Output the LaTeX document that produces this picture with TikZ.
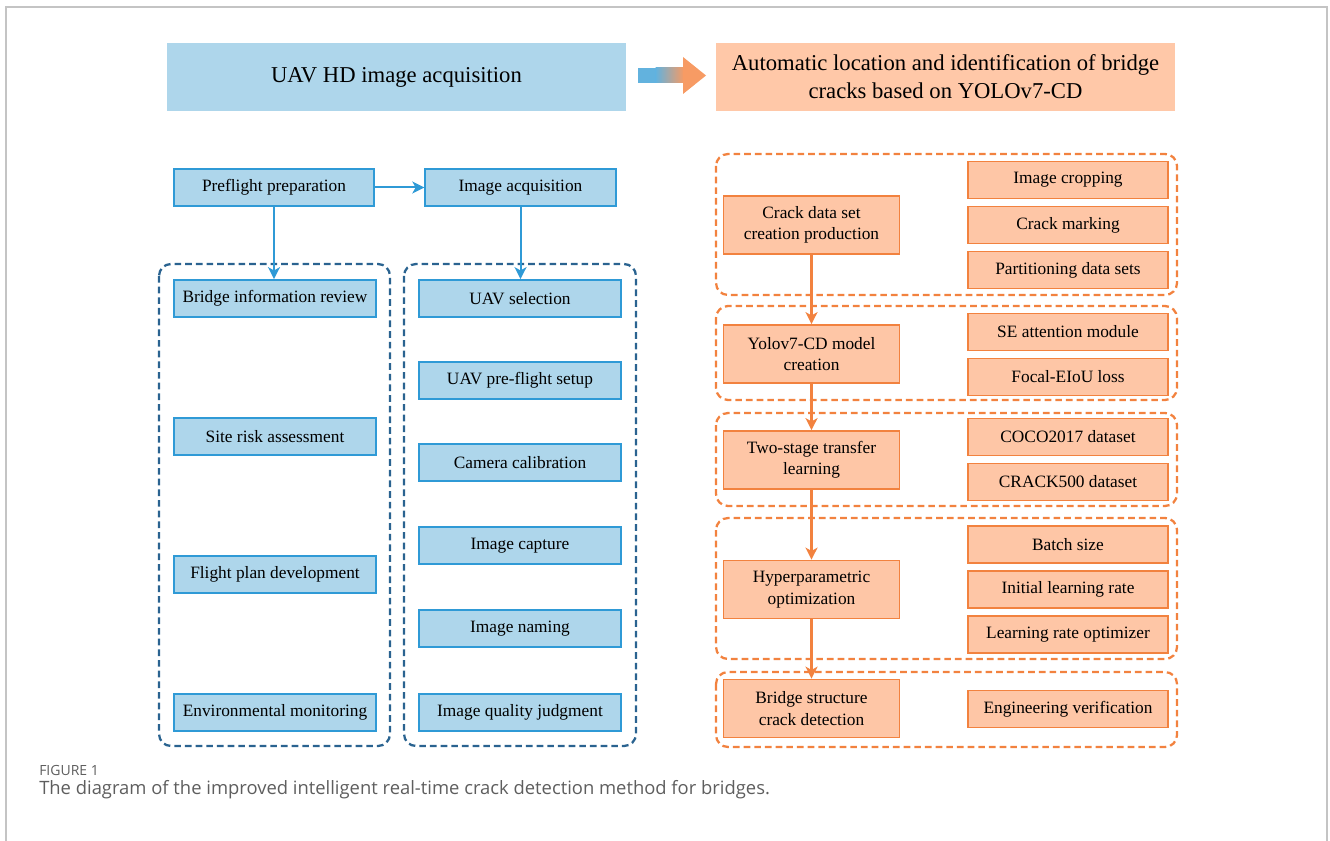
\documentclass[tikz,border=0pt]{standalone}
\usepackage{fontspec}
\setmainfont{Liberation Serif}
\newfontfamily\capfont{Open Sans}
\usetikzlibrary{arrows.meta}
\definecolor{bfill}{HTML}{AED6EB}
\definecolor{bline}{HTML}{2F9AD6}
\definecolor{bdash}{HTML}{2A6390}
\definecolor{ofill}{HTML}{FEC6A6}
\definecolor{oline}{HTML}{F2823F}
\definecolor{otop}{HTML}{FFC8A8}
\definecolor{frame}{HTML}{C4C4C4}
\definecolor{captxt}{HTML}{5E5E5E}
\tikzset{
  bbox/.style={draw=bline, fill=bfill, line width=1.3pt, minimum width=151.5pt, minimum height=27.75pt, inner sep=0pt, font=\fontsize{13}{15}\selectfont, align=center},
  obox/.style={draw=oline, fill=ofill, line width=1.3pt, minimum width=150pt, minimum height=27.75pt, inner sep=0pt, font=\fontsize{13}{15}\selectfont, align=center},
  obig/.style={obox, minimum width=132pt, minimum height=43.5pt, font=\fontsize{13}{16}\selectfont},
  bgrp/.style={draw=bdash, line width=1.7pt, dash pattern=on 5pt off 3pt, rounded corners=9pt},
  ogrp/.style={draw=oline, line width=1.7pt, dash pattern=on 5pt off 3pt, rounded corners=9pt},
  barr/.style={draw=bline, line width=1.5pt, -{Stealth[length=9pt,width=9pt,inset=2.5pt]}},
  oarr/.style={draw=oline, line width=1.6pt, -{Stealth[length=9pt,width=9pt,inset=2.5pt]}},
}
\begin{document}
\begin{tikzpicture}[x=0.75pt,y=-0.75pt]
\useasboundingbox (0,0) rectangle (1330,841);
% frame
\draw[frame, line width=1.2pt] (6,841) -- (6,7) -- (1327,7) -- (1327,841);
% top boxes
\node[fill=bfill, minimum width=344pt, minimum height=51pt, inner sep=0pt, font=\fontsize{17}{20}\selectfont] (uav) at (396.5,77) {UAV HD image acquisition};
\node[fill=otop, minimum width=344pt, minimum height=51pt, inner sep=0pt, align=center, font=\fontsize{17}{21}\selectfont] (auto) at (945.5,77) {Automatic location and identification of bridge\\cracks based on YOLOv7-CD};
% gradient arrow
\coordinate (ga) at (638,75.5);
\fill[bline!60!bfill] (638,68) rectangle (656,83);
\shade[left color=bline!60!bfill, right color=oline!65!otop] (655.5,68) rectangle (684,83);
\fill[oline!65!otop] (683,57) -- (706,75.5) -- (683,94) -- cycle;
% left groups
\draw[bgrp] (159,264) rectangle (390,746);
\draw[bgrp] (404,264) rectangle (636,746);
\node[bbox, minimum width=150pt] (pre) at (274,187.5) {Preflight preparation};
\node[bbox, minimum width=143pt] (ia) at (520.5,187.5) {Image acquisition};
\node[bbox] (bir) at (275,298.5) {Bridge information review};
\node[bbox] (sra) at (275,436.5) {Site risk assessment};
\node[bbox] (fpd) at (275,574.5) {Flight plan development};
\node[bbox] (env) at (275,712.5) {Environmental monitoring};
\node[bbox] (us) at (520,298.5) {UAV selection};
\node[bbox] (ups) at (520,380.5) {UAV pre-flight setup};
\node[bbox] (cc) at (520,462.5) {Camera calibration};
\node[bbox] (ic) at (520,545.5) {Image capture};
\node[bbox] (in) at (520,628.5) {Image naming};
\node[bbox] (iq) at (520,712.5) {Image quality judgment};
\draw[barr] (pre) -- (ia);
\draw[barr] (pre.south) -- (pre.south |- bir.north);
\draw[barr] (ia.south) -- (ia.south |- us.north);
% right groups
\draw[ogrp] (716,154) rectangle (1177,295);
\draw[ogrp] (716,306) rectangle (1177,400);
\draw[ogrp] (716,413) rectangle (1177,506);
\draw[ogrp] (716,518) rectangle (1177,659);
\draw[ogrp] (716,672) rectangle (1177,747);
\node[obig] (cds) at (811.5,225) {Crack data set\\creation production};
\node[obig] (yolo) at (811.5,354) {Yolov7-CD model\\creation};
\node[obig] (two) at (811.5,460) {Two-stage transfer\\learning};
\node[obig] (hyp) at (811.5,589.5) {Hyperparametric\\optimization};
\node[obig] (bsc) at (811.5,708.5) {Bridge structure\\crack detection};
\node[obox] (crop) at (1068,180) {Image cropping};
\node[obox] (mark) at (1068,225) {Crack marking};
\node[obox] (part) at (1068,270) {Partitioning data sets};
\node[obox] (se) at (1068,332) {SE attention module};
\node[obox] (foc) at (1068,377) {Focal-EIoU loss};
\node[obox] (coco) at (1068,437) {COCO2017 dataset};
\node[obox] (crk) at (1068,482) {CRACK500 dataset};
\node[obox] (bat) at (1068,544.5) {Batch size};
\node[obox] (ilr) at (1068,589.5) {Initial learning rate};
\node[obox] (lro) at (1068,634.5) {Learning rate optimizer};
\node[obox] (eng) at (1068,709) {Engineering verification};
\draw[oarr] (cds) -- (yolo);
\draw[oarr] (yolo) -- (two);
\draw[oarr] (two) -- (hyp);
\draw[oarr] (hyp) -- (bsc);
% caption
\node[anchor=west, inner sep=0pt, text=captxt, font=\capfont\fontsize{10.5}{12}\selectfont] (fig) at (39,770) {FIGURE 1};
\node[anchor=west, inner sep=0pt, text=captxt, font=\capfont\fontsize{13.8}{16}\selectfont] (cap) at (39,790) {The diagram of the improved intelligent real-time crack detection method for bridges.};
\end{tikzpicture}
\end{document}
